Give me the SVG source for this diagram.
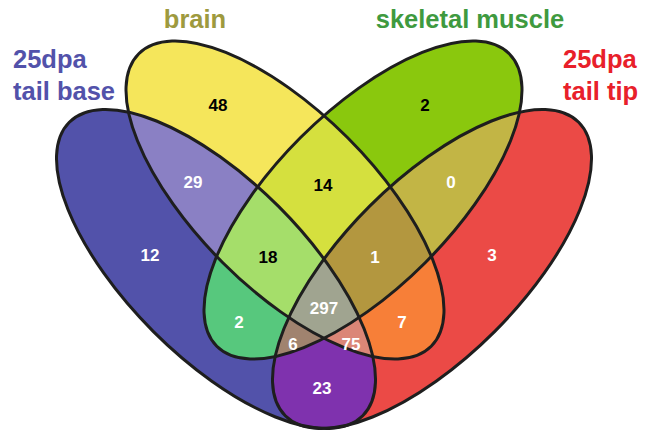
<svg xmlns="http://www.w3.org/2000/svg" xmlns:xlink="http://www.w3.org/1999/xlink" width="646" height="433" viewBox="0 0 646 433">
<style>
.outline{fill:none;stroke:#1e1e1e;stroke-width:3}
.num{font-family:"Liberation Sans",Arial,Helvetica,sans-serif;font-weight:bold;font-size:17px;text-anchor:middle}
.w{fill:#ffffff}
.k{fill:#000000}
.title{font-family:"Liberation Sans",Arial,Helvetica,sans-serif;font-weight:bold;font-size:25.5px}
</style>
<defs>
<ellipse id="eA" cx="216" cy="269" rx="207.5" ry="88.5" transform="rotate(45 216 269)"/>
<ellipse id="eB" cx="285" cy="200" rx="206.8" ry="88.3" transform="rotate(45 285 200)"/>
<ellipse id="eC" cx="363" cy="200" rx="206.8" ry="88.3" transform="rotate(-45 363 200)"/>
<ellipse id="eD" cx="432" cy="269" rx="207.5" ry="88.5" transform="rotate(-45 432 269)"/>
<clipPath id="cA"><use xlink:href="#eA"/></clipPath>
<clipPath id="cB"><use xlink:href="#eB"/></clipPath>
<clipPath id="cC"><use xlink:href="#eC"/></clipPath>
<clipPath id="cD"><use xlink:href="#eD"/></clipPath>
</defs>
<g id="regions">
<use xlink:href="#eA" fill="#5252aa"/>
<use xlink:href="#eB" fill="#f5e65b"/>
<use xlink:href="#eC" fill="#8ac80d"/>
<use xlink:href="#eD" fill="#eb4a46"/>
<g clip-path="url(#cA)"><use xlink:href="#eB" fill="#8a80c4"/></g>
<g clip-path="url(#cA)"><use xlink:href="#eC" fill="#57c87d"/></g>
<g clip-path="url(#cA)"><use xlink:href="#eD" fill="#7f32ae"/></g>
<g clip-path="url(#cB)"><use xlink:href="#eC" fill="#d5e03e"/></g>
<g clip-path="url(#cB)"><use xlink:href="#eD" fill="#f77f38"/></g>
<g clip-path="url(#cC)"><use xlink:href="#eD" fill="#c2b545"/></g>
<g clip-path="url(#cA)"><g clip-path="url(#cB)"><use xlink:href="#eC" fill="#a5de6a"/></g></g>
<g clip-path="url(#cA)"><g clip-path="url(#cB)"><use xlink:href="#eD" fill="#db8677"/></g></g>
<g clip-path="url(#cA)"><g clip-path="url(#cC)"><use xlink:href="#eD" fill="#a0836f"/></g></g>
<g clip-path="url(#cB)"><g clip-path="url(#cC)"><use xlink:href="#eD" fill="#b3973f"/></g></g>
<g clip-path="url(#cA)"><g clip-path="url(#cB)"><g clip-path="url(#cC)"><use xlink:href="#eD" fill="#a0a490"/></g></g></g>
</g>
<g id="set-tail-base">
<use xlink:href="#eA" class="outline"/>
<text class="title" x="13" y="68" fill="#5252aa">25dpa</text>
<text class="title" x="13" y="100" fill="#5252aa">tail base</text>
</g>
<g id="set-brain">
<use xlink:href="#eB" class="outline"/>
<text class="title" x="195" y="28" fill="#9e9a3e" text-anchor="middle">brain</text>
</g>
<g id="set-skeletal-muscle">
<use xlink:href="#eC" class="outline"/>
<text class="title" x="470" y="28" fill="#3f9a3f" text-anchor="middle">skeletal muscle</text>
</g>
<g id="set-tail-tip">
<use xlink:href="#eD" class="outline"/>
<text class="title" x="563" y="68" fill="#e8202a">25dpa</text>
<text class="title" x="563" y="100" fill="#e8202a">tail tip</text>
</g>
<g id="counts">
<text class="num k" x="218" y="111">48</text>
<text class="num w" x="193" y="188">29</text>
<text class="num w" x="150" y="261">12</text>
<text class="num k" x="268" y="263">18</text>
<text class="num k" x="323" y="191">14</text>
<text class="num k" x="425" y="111">2</text>
<text class="num w" x="451" y="188">0</text>
<text class="num w" x="492" y="261">3</text>
<text class="num w" x="375" y="263">1</text>
<text class="num w" x="324" y="314">297</text>
<text class="num w" x="239" y="328">2</text>
<text class="num w" x="402" y="328">7</text>
<text class="num w" x="293" y="350">6</text>
<text class="num w" x="351" y="350">75</text>
<text class="num w" x="322" y="394">23</text>
</g>
</svg>
